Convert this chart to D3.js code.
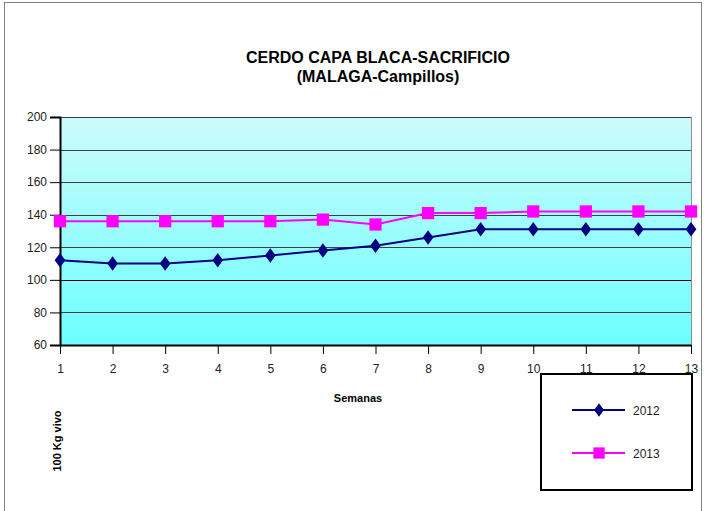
<!DOCTYPE html>
<html>
<head>
<meta charset="utf-8">
<script src="https://cdn.jsdelivr.net/npm/d3@7"></script>
<style>
  body { margin: 0; background: #fff; }
  text { font-family: "Liberation Sans", Arial, sans-serif; }
</style>
</head>
<body>
<div id="chart"></div>
<script>
const weeks = [1, 2, 3, 4, 5, 6, 7, 8, 9, 10, 11, 12, 13];
const values2012 = [112, 110, 110, 112, 115, 118, 121, 126, 131, 131, 131, 131, 131];
const values2013 = [136, 136, 136, 136, 136, 137, 134, 141, 141, 142, 142, 142, 142];
const seriesNames = ['2012', '2013'];
const yTicks = [60, 80, 100, 120, 140, 160, 180, 200];

const render = () => {
  const width = 704;
  const height = 511;
  const margin = { top: 117, right: 13, bottom: 166, left: 60 };
  const innerWidth = 691 - margin.left;
  const innerHeight = 345 - margin.top;

  const svg = d3
    .select('#chart')
    .append('svg')
    .attr('width', width)
    .attr('height', height);

  // outer frame
  svg
    .append('rect')
    .attr('x', 4.5)
    .attr('y', 2.5)
    .attr('width', 697)
    .attr('height', 520)
    .attr('fill', '#fff')
    .attr('stroke', '#808080')
    .attr('stroke-width', 1);

  // gradient background
  const defs = svg.append('defs');
  const grad = defs
    .append('linearGradient')
    .attr('id', 'bg')
    .attr('x1', 0)
    .attr('y1', 0)
    .attr('x2', 0)
    .attr('y2', 1);
  grad.append('stop').attr('offset', '0%').attr('stop-color', '#ccfbfb');
  grad.append('stop').attr('offset', '100%').attr('stop-color', '#6cffff');

  const g = svg
    .append('g')
    .attr('transform', `translate(${margin.left}, ${margin.top})`);

  const xScale = d3.scaleLinear().domain([1, 13]).range([0, innerWidth]);
  const yScale = d3.scaleLinear().domain([60, 200]).range([innerHeight, 0]);

  g.append('rect')
    .attr('width', innerWidth)
    .attr('height', innerHeight)
    .attr('fill', 'url(#bg)');

  // gridlines
  g.selectAll('.grid')
    .data(yTicks.filter((d) => d > 60))
    .enter()
    .append('line')
    .attr('class', 'grid')
    .attr('x1', 0)
    .attr('x2', innerWidth)
    .attr('y1', (d) => Math.round(yScale(d)) + 0.5)
    .attr('y2', (d) => Math.round(yScale(d)) + 0.5)
    .attr('stroke', (d) => (d === 100 ? '#000' : '#404040'))
    .attr('stroke-width', 1);

  // right edge
  g.append('line')
    .attr('x1', innerWidth + 0.5)
    .attr('x2', innerWidth + 0.5)
    .attr('y1', 0)
    .attr('y2', innerHeight)
    .attr('stroke', '#909090');

  // yAxis
  const yAxis = d3
    .axisLeft(yScale)
    .tickValues(yTicks)
    .tickSize(10)
    .tickPadding(3);
  const yAxisGroup = g.append('g').call(yAxis);
  yAxisGroup.select('.domain').attr('stroke-width', 2);
  yAxisGroup
    .selectAll('text')
    .style('font-size', '12px')
    .attr('fill', '#222');

  // xAxis
  const xAxis = d3
    .axisBottom(xScale)
    .tickValues(weeks)
    .tickSize(9)
    .tickSizeOuter(0)
    .tickPadding(10);
  const xAxisGroup = g
    .append('g')
    .attr('transform', `translate(0, ${innerHeight})`)
    .call(xAxis);
  xAxisGroup.select('.domain').attr('stroke-width', 2);
  xAxisGroup
    .selectAll('text')
    .style('font-size', '12px')
    .attr('fill', '#222');

  // lines
  const line = d3
    .line()
    .x((d, i) => xScale(weeks[i]))
    .y((d) => yScale(d));

  const series = [
    { name: seriesNames[0], values: values2012, color: '#000080', shape: d3.symbolDiamond, size: 75 },
    { name: seriesNames[1], values: values2013, color: '#ff00ff', shape: d3.symbolSquare, size: 150 },
  ];

  series.forEach((s) => {
    g.append('path')
      .datum(s.values)
      .attr('d', line)
      .attr('fill', 'none')
      .attr('stroke', s.color)
      .attr('stroke-width', 2);
    g.selectAll(null)
      .data(s.values)
      .enter()
      .append('path')
      .attr('d', d3.symbol().type(s.shape).size(s.size))
      .attr('transform', (d, i) => {
        const stretch = s.shape === d3.symbolDiamond ? ' scale(1.15,0.9)' : '';
        return `translate(${xScale(weeks[i])}, ${yScale(d)})` + stretch;
      })
      .attr('fill', s.color);
  });

  // title
  const title = svg
    .append('text')
    .attr('x', 378)
    .attr('text-anchor', 'middle')
    .style('font-family', '"Liberation Sans Narrow", "Liberation Sans", Arial, sans-serif')
    .style('font-weight', 'bold')
    .style('font-size', '16px');
  title.append('tspan').attr('x', 378).attr('y', 63).text('CERDO CAPA BLACA-SACRIFICIO');
  title.append('tspan').attr('x', 378).attr('y', 82).text('(MALAGA-Campillos)');

  // axis labels
  svg
    .append('text')
    .attr('x', 358)
    .attr('y', 402)
    .attr('text-anchor', 'middle')
    .style('font-weight', 'bold')
    .style('font-size', '11px')
    .style('font-family', '"Liberation Sans Narrow", "Liberation Sans", Arial, sans-serif')
    .text('Semanas');

  svg
    .append('text')
    .attr('transform', 'translate(61, 441) rotate(-90)')
    .attr('text-anchor', 'middle')
    .style('font-weight', 'bold')
    .style('font-size', '11px')
    .style('font-family', '"Liberation Sans Narrow", "Liberation Sans", Arial, sans-serif')
    .text('100 Kg vivo');

  // Legend
  svg
    .append('rect')
    .attr('x', 541)
    .attr('y', 374)
    .attr('width', 151)
    .attr('height', 116)
    .attr('fill', '#fff')
    .attr('stroke', '#000')
    .attr('stroke-width', 2);

  const legend = svg
    .selectAll('.legend-item')
    .data(series)
    .enter()
    .append('g')
    .attr('class', 'legend-item')
    .attr('transform', (d, i) => `translate(572, ${410 + i * 43})`);

  legend
    .append('line')
    .attr('x1', 0)
    .attr('x2', 53)
    .attr('stroke', (d) => d.color)
    .attr('stroke-width', 2);

  legend
    .append('path')
    .attr('d', (d) => d3.symbol().type(d.shape).size(d.size * 0.85)())
    .attr('transform', (d) =>
      d.shape === d3.symbolDiamond ? 'translate(27,0) scale(1.15,0.9)' : 'translate(27,0)'
    )
    .attr('fill', (d) => d.color);

  legend
    .append('text')
    .attr('x', 61)
    .attr('y', 5)
    .style('font-size', '12px')
    .attr('fill', '#222')
    .text((d) => d.name);
};

render();
</script>
</body>
</html>
